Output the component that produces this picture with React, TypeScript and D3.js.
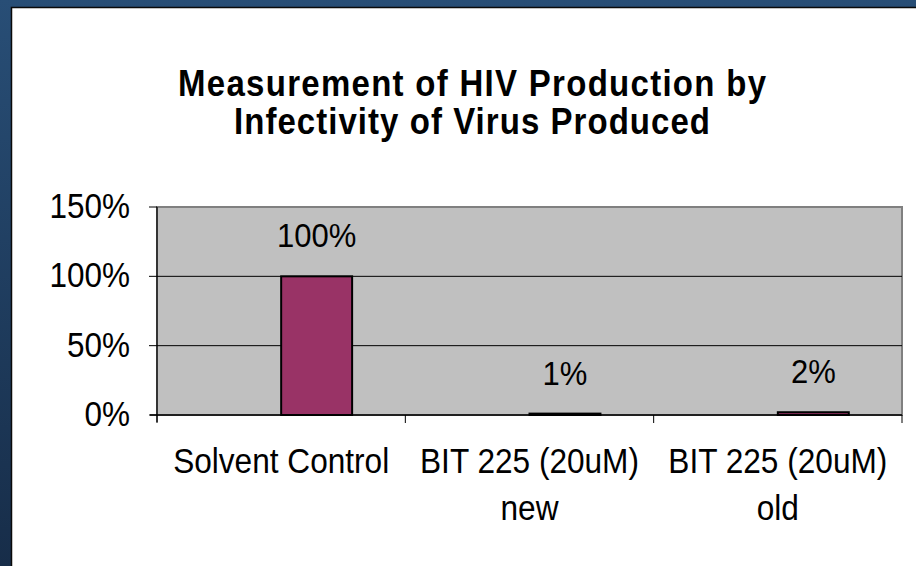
import React from "react";
import * as d3 from "d3";

const titleLines = ["Measurement of HIV Production by", "Infectivity of Virus Produced"];
const titleWidths = [588, 476];
const categories = ["Solvent Control", "BIT 225 (20uM) new", "BIT 225 (20uM) old"];
const categoryLines = [["Solvent Control"], ["BIT 225 (20uM)", "new"], ["BIT 225 (20uM)", "old"]];
const seriesNames = ["Series1", "Infectivity"];
const series1Values: (number | null)[] = [null, null, null];
const series2Values = [1.0, 0.01, 0.02];
const yTicks = [0, 0.5, 1, 1.5];

const W = 916;
const H = 566;
const FONT = "'Liberation Sans', Arial, Helvetica, sans-serif";
const VSTRETCH = 1.09;

function Label(props: {
  x: number;
  y: number;
  size: number;
  anchor?: string;
  bold?: boolean;
  length?: number;
  stretch?: number;
  children: React.ReactNode;
}) {
  const { x, y, size, anchor = "middle", bold = false, length, stretch = VSTRETCH, children } = props;
  return (
    <g transform={`translate(${x},${y}) scale(1,${stretch})`}>
      <text
        x={0}
        y={0}
        textAnchor={anchor}
        fontSize={size}
        fontWeight={bold ? "bold" : "normal"}
        fill="#000"
        {...(length ? { textLength: length, lengthAdjust: "spacing" } : {})}
      >
        {children}
      </text>
    </g>
  );
}

export default function App() {
  const left = 157, right = 902, top = 207, bottom = 415;
  const x = d3.scaleBand<string>().domain(categories).range([left, right]).padding(0);
  const inner = d3.scaleBand<string>().domain(seriesNames).range([0, x.bandwidth()]).paddingInner(0).paddingOuter(0.75);
  const y = d3.scaleLinear().domain([0, 1.5]).range([bottom, top]);
  const fmt = d3.format(".0%");
  const allSeries = [series1Values, series2Values];

  return (
    <svg width={W} height={H} style={{ position: "absolute", left: 0, top: 0 }} fontFamily={FONT}>
      <defs>
        <linearGradient id="bgGrad" x1="0" y1="0" x2="0" y2="1">
          <stop offset="0" stopColor="#284e76" />
          <stop offset="1" stopColor="#172d49" />
        </linearGradient>
      </defs>
      <rect x={0} y={0} width={W} height={H} fill="url(#bgGrad)" />
      <rect x={11.5} y={7.5} width={W} height={H} fill="#ffffff" stroke="#0a0a0a" strokeWidth={1.5} />

      {titleLines.map((t, i) => (
        <Label key={t} x={472} y={96 + i * 38} size={33} bold length={titleWidths[i]} stretch={1.1}>
          {t}
        </Label>
      ))}

      {/* plot area */}
      <rect x={left} y={top} width={right - left} height={bottom - top} fill="#c0c0c0" stroke="#808080" strokeWidth={2} />
      {yTicks.filter((t) => t > 0 && t < 1.5).map((t) => (
        <line key={t} x1={left} x2={right} y1={y(t)} y2={y(t)} stroke="#000" strokeWidth={1} />
      ))}

      {/* bars */}
      {allSeries.map((vals, si) =>
        vals.map((v, ci) =>
          v == null ? null : (
            <rect
              key={`${si}-${ci}`}
              x={(x(categories[ci]) as number) + (inner(seriesNames[si]) as number)}
              y={y(v)}
              width={inner.bandwidth()}
              height={y(0) - y(v)}
              fill="#993366"
              stroke="#000"
              strokeWidth={2}
            />
          )
        )
      )}

      {/* axes */}
      <line x1={left} x2={left} y1={top} y2={bottom + 7} stroke="#000" strokeWidth={1.2} />
      <line x1={left - 7} x2={right} y1={bottom} y2={bottom} stroke="#000" strokeWidth={1.5} />
      {yTicks.map((t) => (
        <g key={t}>
          <line x1={left - 8} x2={left} y1={y(t)} y2={y(t)} stroke="#000" strokeWidth={1} />
          <Label x={130} y={y(t) + 11} size={31.5} anchor="end">
            {fmt(t)}
          </Label>
        </g>
      ))}
      {[...categories.map((c) => x(c) as number), right].map((px, i) => (
        <line key={i} x1={px} x2={px} y1={bottom} y2={bottom + 8} stroke="#000" strokeWidth={1} />
      ))}
      {categories.map((c, ci) =>
        categoryLines[ci].map((ln, li) => (
          <Label key={`${c}-${li}`} x={(x(c) as number) + x.bandwidth() / 2} y={473 + li * 47} size={31.6}>
            {ln}
          </Label>
        ))
      )}

      {/* data labels */}
      {series2Values.map((v, ci) => (
        <Label
          key={ci}
          x={(x(categories[ci]) as number) + (inner(seriesNames[1]) as number) + inner.bandwidth() / 2}
          y={y(v) - 29}
          size={31}
        >
          {fmt(v)}
        </Label>
      ))}
    </svg>
  );
}
